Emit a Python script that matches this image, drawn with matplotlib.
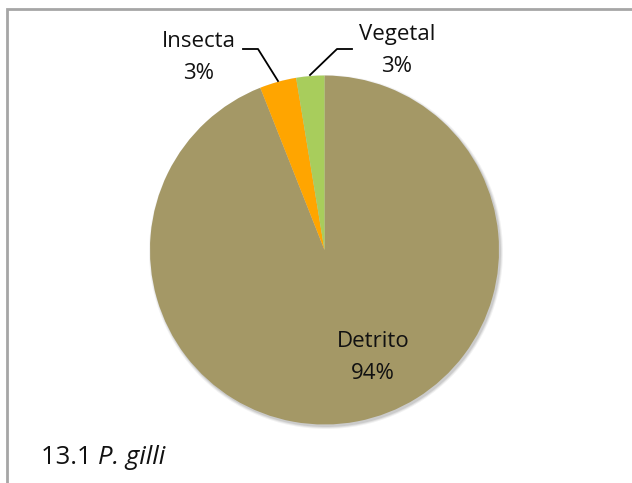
import matplotlib.pyplot as plt
from matplotlib.patches import Circle

labels = ['Detrito', 'Insecta', 'Vegetal']
values = [94.0, 3.4, 2.6]
pct_text = ['94%', '3%', '3%']
colors = ['#A49866', '#FFA500', '#A8CD5C']

plt.rcParams['font.family'] = ['Open Sans', 'DejaVu Sans']

W, H = 632, 483
fig = plt.figure(figsize=(W / 100, H / 100), dpi=100)
ax = fig.add_axes([0, 0, 1, 1])

cx, cy, r = 324.5, H - 250, 174.5

# soft shadow under the pie
for i, a in enumerate([0.05, 0.07, 0.09]):
    ax.add_patch(Circle((cx + 1.5, cy - 2), r + 2.5 - i, color='black', alpha=a, lw=0, zorder=0))

ax.pie(values, colors=colors, startangle=90, counterclock=False,
       center=(cx, cy), radius=r, frame=True, wedgeprops=dict(linewidth=0))
ax.set_xlim(0, W)
ax.set_ylim(0, H)
ax.set_aspect('equal')
ax.axis('off')

fs = 16
tc = '#111111'


def two_line(x, y1, y2, a, b):
    ax.text(x, H - y1, a, ha='center', va='baseline', fontsize=fs, color=tc)
    ax.text(x, H - y2, b, ha='center', va='baseline', fontsize=fs, color=tc)


two_line(373, 347, 379, labels[0], pct_text[0])
two_line(199, 47, 79, labels[1], pct_text[1])
two_line(397, 40, 72, labels[2], pct_text[2])

ax.plot([243, 258, 278], [H - 49, H - 49, H - 81], color='black', lw=1.3)
ax.plot([352, 337, 310], [H - 49, H - 49, H - 75], color='black', lw=1.3)

# caption
t = ax.text(41, H - 464, '13.1 ', ha='left', va='baseline', fontsize=18.5, color=tc)
ax.annotate('P. gilli', xy=(1, 0), xycoords=t, ha='left', va='bottom',
            fontsize=18.5, style='italic', color=tc)

# chart border (top and left visible)
ax.plot([7, 7, W + 5], [-5, H - 9, H - 9], color='#A6A6A6', lw=2, solid_joinstyle='miter')

fig.savefig('out.png', dpi=100)
